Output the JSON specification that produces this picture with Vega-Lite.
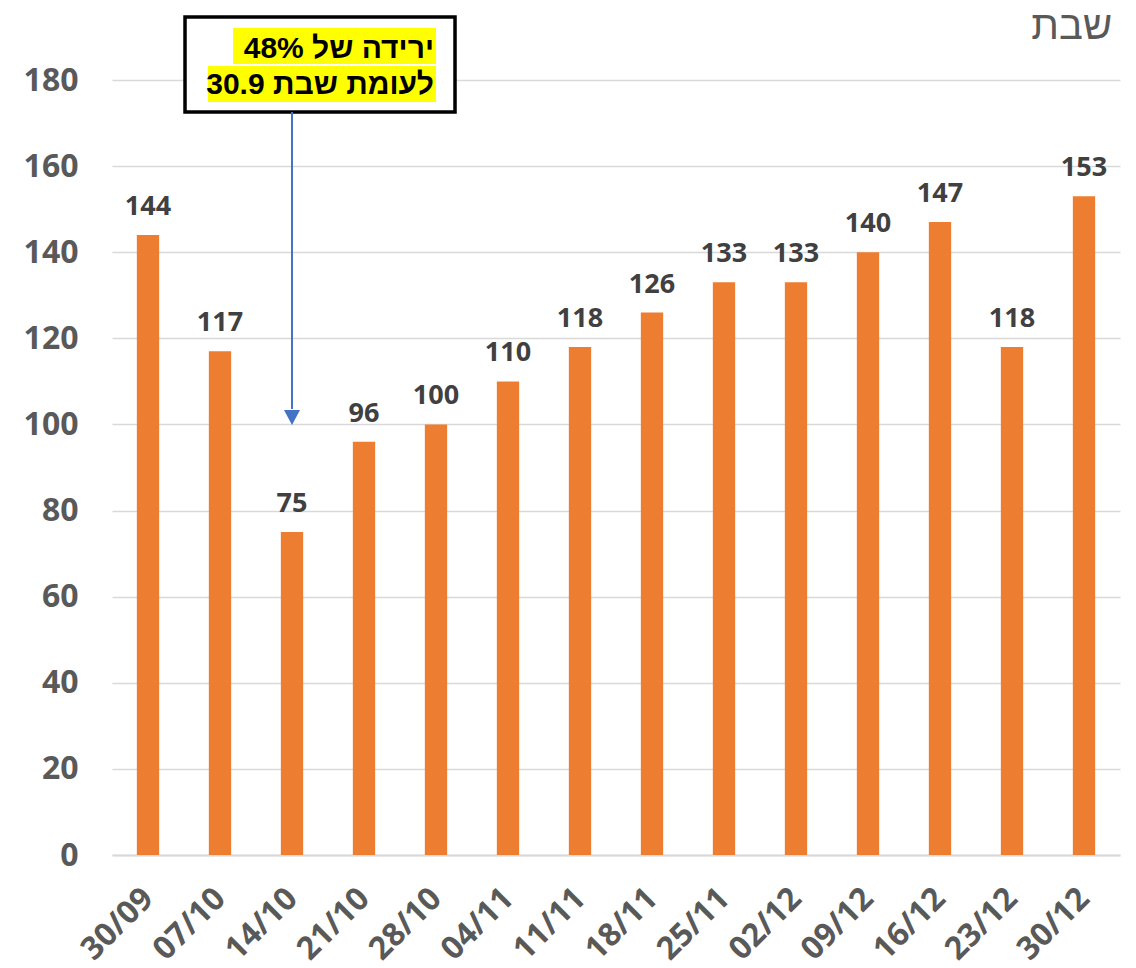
{
  "$schema": "https://vega.github.io/schema/vega-lite/v6.json",
  "width": 1008,
  "height": 775,
  "autosize": {"type": "none"},
  "padding": {"left": 112, "top": 80, "right": 16, "bottom": 113},
  "background": "white",
  "config": {"view": {"stroke": null}},
  "datasets": {
    "main": [
      {"date": "30/09", "value": 144},
      {"date": "07/10", "value": 117},
      {"date": "14/10", "value": 75},
      {"date": "21/10", "value": 96},
      {"date": "28/10", "value": 100},
      {"date": "04/11", "value": 110},
      {"date": "11/11", "value": 118},
      {"date": "18/11", "value": 126},
      {"date": "25/11", "value": 133},
      {"date": "02/12", "value": 133},
      {"date": "09/12", "value": 140},
      {"date": "16/12", "value": 147},
      {"date": "23/12", "value": 118},
      {"date": "30/12", "value": 153}
    ]
  },
  "resolve": {"scale": {"x": "independent"}},
  "layer": [
    {
      "data": {"name": "main"},
      "encoding": {
        "x": {
          "field": "date", "type": "nominal", "sort": null,
          "scale": {"paddingInner": 0.69, "paddingOuter": 0.345},
          "axis": {
            "title": null, "ticks": false, "domainColor": "#d9d9d9", "domainWidth": 2,
            "labelAngle": -45, "labelAlign": "right", "labelBaseline": "middle", "labelPadding": 38,
            "labelFont": "Open Sans", "labelFontSize": 32, "labelFontWeight": "bold", "labelColor": "#595959"
          }
        },
        "y": {
          "field": "value", "type": "quantitative",
          "scale": {"domain": [0, 180], "nice": false},
          "axis": {
            "title": null, "values": [0, 20, 40, 60, 80, 100, 120, 140, 160, 180],
            "ticks": false, "domain": false, "gridColor": "#d9d9d9", "gridWidth": 1.5,
            "labelPadding": 34, "labelFont": "Open Sans", "labelFontSize": 32, "labelFontWeight": "bold", "labelColor": "#595959"
          }
        }
      },
      "layer": [
        {"mark": {"type": "bar", "color": "#ED7D31"}},
        {
          "mark": {"type": "text", "dy": -20, "baseline": "alphabetic", "font": "Open Sans", "fontSize": 27, "fontWeight": "bold", "color": "#404040"},
          "encoding": {"text": {"field": "value", "type": "quantitative"}}
        }
      ]
    },
    {
      "data": {"values": [{}]},
      "layer": [
        {
          "mark": {"type": "rect", "fill": "white", "stroke": "black", "strokeWidth": 3.5},
          "encoding": {
            "x": {"datum": 1.014, "type": "quantitative", "scale": {"domain": [0, 14], "nice": false, "zero": false}, "axis": null},
            "x2": {"datum": 4.764},
            "y": {"datum": 194.63, "type": "quantitative"},
            "y2": {"datum": 172.57}
          }
        },
        {
          "mark": {"type": "rect", "fill": "#FFFF00"},
          "encoding": {
            "x": {"datum": 1.681, "type": "quantitative"},
            "x2": {"datum": 4.5},
            "y": {"datum": 192.08, "type": "quantitative"},
            "y2": {"datum": 183.72}
          }
        },
        {
          "mark": {"type": "rect", "fill": "#FFFF00"},
          "encoding": {
            "x": {"datum": 1.333, "type": "quantitative"},
            "x2": {"datum": 4.5},
            "y": {"datum": 183.25, "type": "quantitative"},
            "y2": {"datum": 174.89}
          }
        },
        {
          "mark": {"type": "text", "align": "right", "baseline": "alphabetic", "font": "Liberation Sans", "fontSize": 30, "fontWeight": "bold", "color": "black"},
          "encoding": {
            "x": {"datum": 4.472, "type": "quantitative"},
            "y": {"datum": 185.18, "type": "quantitative"},
            "text": {"value": "ירידה של 48%"}
          }
        },
        {
          "mark": {"type": "text", "align": "right", "baseline": "alphabetic", "font": "Liberation Sans", "fontSize": 30, "fontWeight": "bold", "color": "black"},
          "encoding": {
            "x": {"datum": 4.472, "type": "quantitative"},
            "y": {"datum": 176.68, "type": "quantitative"},
            "text": {"value": "לעומת שבת 30.9"}
          }
        },
        {
          "mark": {"type": "rule", "color": "#4472C4", "strokeWidth": 2},
          "encoding": {
            "x": {"datum": 2.5, "type": "quantitative"},
            "y": {"datum": 172.57, "type": "quantitative"},
            "y2": {"datum": 103.6}
          }
        },
        {
          "mark": {"type": "point", "shape": "M-1,-0.94L1,-0.94L0,0.94Z", "filled": true, "color": "#4472C4", "opacity": 1, "size": 256},
          "encoding": {
            "x": {"datum": 2.5, "type": "quantitative"},
            "y": {"datum": 101.6, "type": "quantitative"}
          }
        },
        {
          "mark": {"type": "text", "align": "right", "baseline": "alphabetic", "font": "Liberation Sans", "fontSize": 40, "fontWeight": "normal", "color": "#595959"},
          "encoding": {
            "x": {"datum": 13.89, "type": "quantitative"},
            "y": {"datum": 189.5, "type": "quantitative"},
            "text": {"value": "שבת"}
          }
        }
      ]
    }
  ]
}
